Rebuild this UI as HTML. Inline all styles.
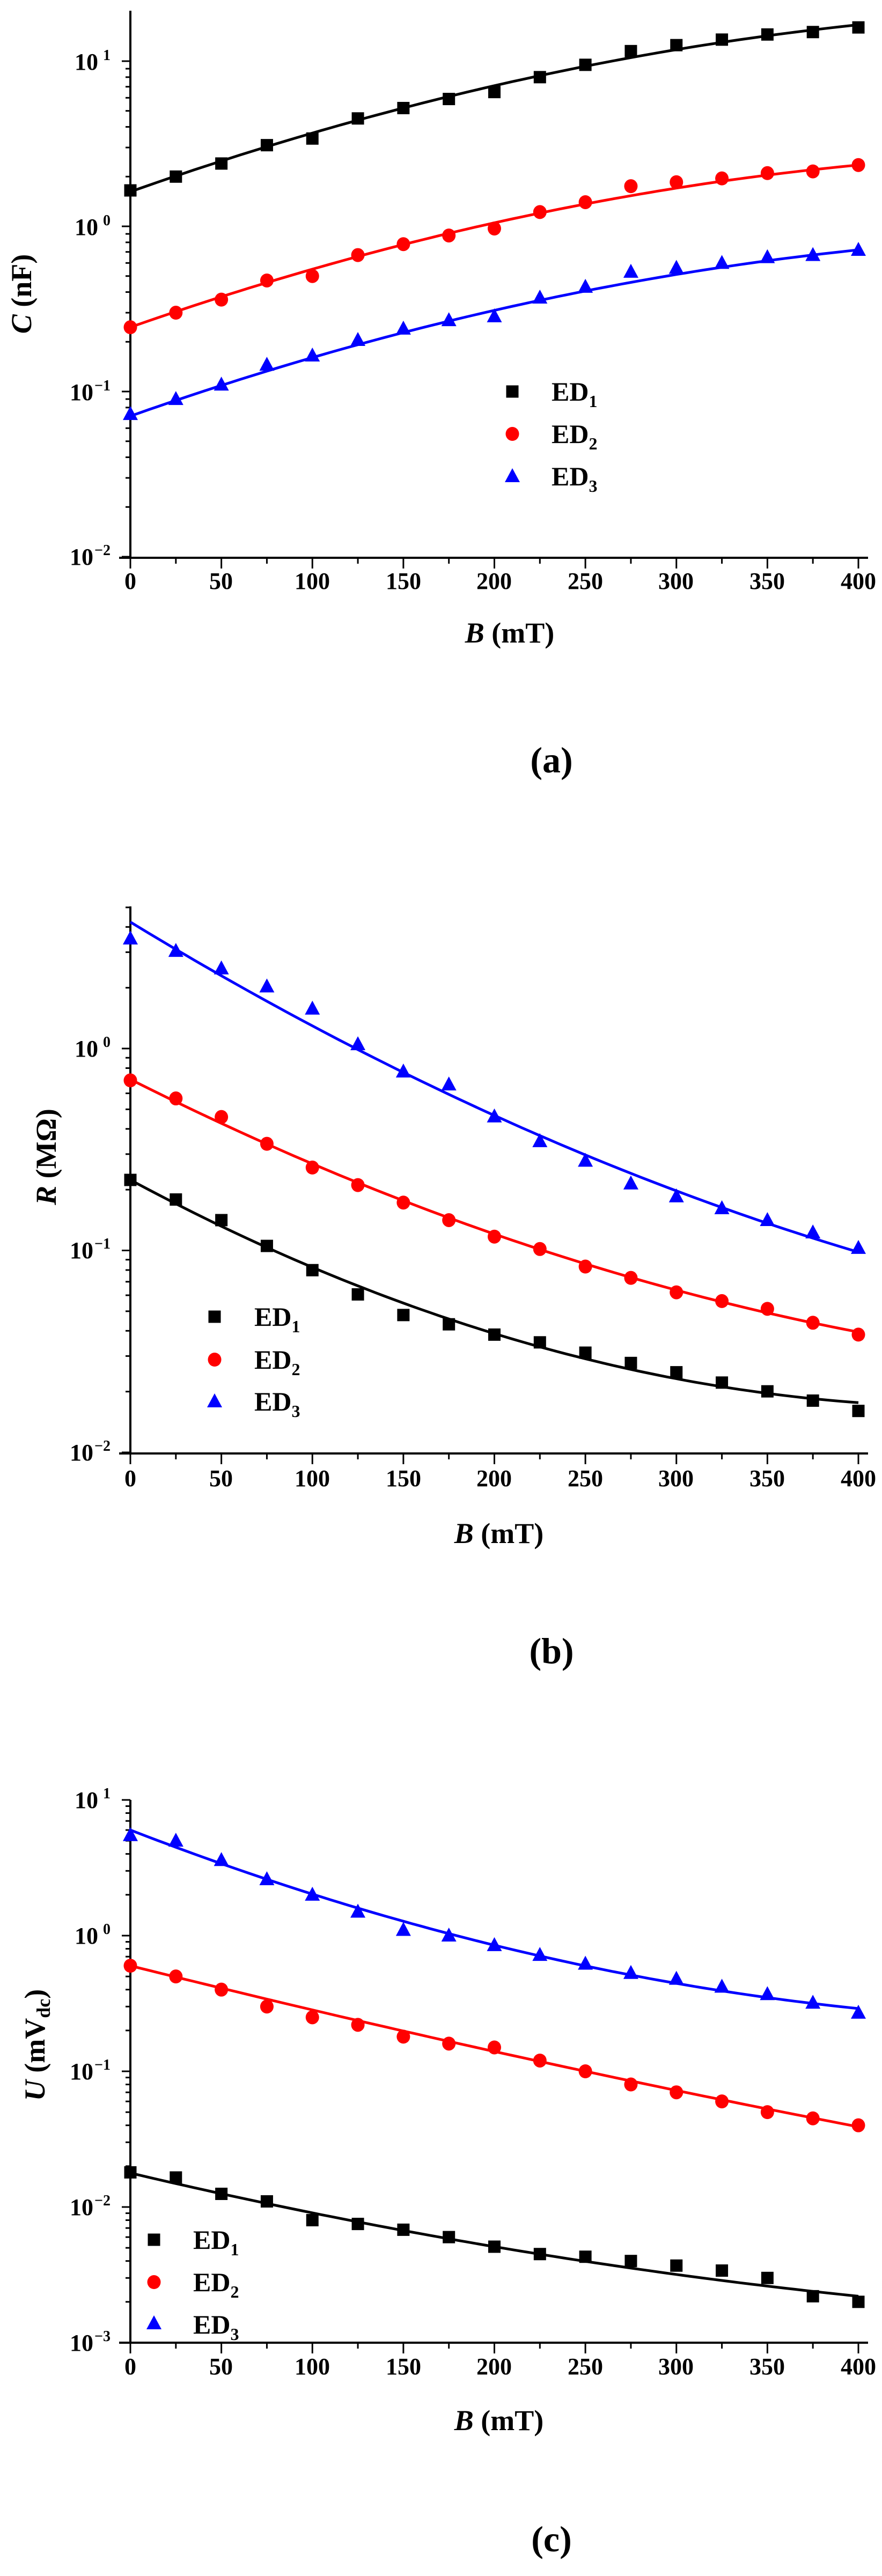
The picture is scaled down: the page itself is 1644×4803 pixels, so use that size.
<!DOCTYPE html>
<html><head><meta charset="utf-8"><style>
html,body{margin:0;padding:0;background:#fff;}
svg{display:block}
text{font-family:"Liberation Serif",serif;font-weight:bold;fill:#000}
</style></head><body>
<svg id="s" width="1644" height="4803" viewBox="0 0 1644 4803" xmlns="http://www.w3.org/2000/svg">
<g id="g"></g>
<!-- Panel a texts -->
<g font-size="44" text-anchor="middle">
<text x="243" y="1098">0</text><text x="412" y="1098">50</text><text x="582" y="1098">100</text><text x="752" y="1098">150</text><text x="921" y="1098">200</text><text x="1091" y="1098">250</text><text x="1260" y="1098">300</text><text x="1430" y="1098">350</text><text x="1600" y="1098">400</text>
<text x="243" y="2771">0</text><text x="412" y="2771">50</text><text x="582" y="2771">100</text><text x="752" y="2771">150</text><text x="921" y="2771">200</text><text x="1091" y="2771">250</text><text x="1260" y="2771">300</text><text x="1430" y="2771">350</text><text x="1600" y="2771">400</text>
<text x="243" y="4427">0</text><text x="412" y="4427">50</text><text x="582" y="4427">100</text><text x="752" y="4427">150</text><text x="921" y="4427">200</text><text x="1091" y="4427">250</text><text x="1260" y="4427">300</text><text x="1430" y="4427">350</text><text x="1600" y="4427">400</text>
</g>
<g font-size="44" text-anchor="end">
<text x="183" y="130">10</text><text x="206" y="112" font-size="28">1</text>
<text x="183" y="438">10</text><text x="206" y="420" font-size="28">0</text>
<text x="174" y="746">10</text><text x="206" y="728" font-size="28">−1</text>
<text x="174" y="1053">10</text><text x="206" y="1035" font-size="28">−2</text>

<text x="183" y="1970">10</text><text x="206" y="1952" font-size="28">0</text>
<text x="174" y="2346">10</text><text x="206" y="2328" font-size="28">−1</text>
<text x="174" y="2723">10</text><text x="206" y="2705" font-size="28">−2</text>

<text x="183" y="3371">10</text><text x="206" y="3353" font-size="28">1</text>
<text x="183" y="3624">10</text><text x="206" y="3606" font-size="28">0</text>
<text x="174" y="3877">10</text><text x="206" y="3859" font-size="28">−1</text>
<text x="174" y="4130">10</text><text x="206" y="4112" font-size="28">−2</text>
<text x="174" y="4383">10</text><text x="206" y="4365" font-size="28">−3</text>
</g>
<g font-size="54" text-anchor="middle">
<text x="950" y="1198"><tspan font-style="italic">B</tspan> (mT)</text>
<text x="930" y="2877"><tspan font-style="italic">B</tspan> (mT)</text>
<text x="930" y="4531"><tspan font-style="italic">B</tspan> (mT)</text>
<text transform="translate(58,548) rotate(-90)"><tspan font-style="italic">C</tspan> (nF)</text>
<text transform="translate(104,2157) rotate(-90)"><tspan font-style="italic">R</tspan> (MΩ)</text>
<text transform="translate(83,3813) rotate(-90)"><tspan font-style="italic">U</tspan> (mV<tspan font-size="36" dy="10">dc</tspan><tspan dy="-10">)</tspan></text>
</g>
<g font-size="68" text-anchor="middle" style="font-family:'Liberation Sans',sans-serif">
<text x="1028" y="1440">(a)</text>
<text x="1028" y="3101">(b)</text>
<text x="1028" y="4757">(c)</text>
</g>
<g font-size="50">
<text x="1028" y="747">ED<tspan font-size="32" dy="12">1</tspan></text>
<text x="1028" y="826">ED<tspan font-size="32" dy="12">2</tspan></text>
<text x="1028" y="905">ED<tspan font-size="32" dy="12">3</tspan></text>
<text x="474" y="2472">ED<tspan font-size="32" dy="12">1</tspan></text>
<text x="474" y="2552">ED<tspan font-size="32" dy="12">2</tspan></text>
<text x="474" y="2630">ED<tspan font-size="32" dy="12">3</tspan></text>
<text x="360" y="4193">ED<tspan font-size="32" dy="12">1</tspan></text>
<text x="360" y="4272">ED<tspan font-size="32" dy="12">2</tspan></text>
<text x="360" y="4351">ED<tspan font-size="32" dy="12">3</tspan></text>
</g>
</svg>
<script>
(function(){
var g=document.getElementById('g'),NS='http://www.w3.org/2000/svg',h='';
var X0=243,X1=1600;function X(b){return X0+(X1-X0)*b/400;}
function axes(top,bot,decY,decades,dec){ // decY: y of lowest decade, dec px per decade
 h+='<line x1="222" y1="'+bot+'" x2="1618" y2="'+bot+'" stroke="#000" stroke-width="4"/>';
 h+='<line x1="243" y1="'+top+'" x2="243" y2="'+(bot+2)+'" stroke="#000" stroke-width="4"/>';
 for(var b=0;b<=400;b+=25){var L=(b%50==0)?20:11;h+='<line x1="'+X(b)+'" y1="'+bot+'" x2="'+X(b)+'" y2="'+(bot+L)+'" stroke="#000" stroke-width="3"/>';}
 for(var d=0;d<decades;d++){for(var m=1;m<10;m++){var y=decY-dec*(d+Math.log10(m));if(y<top-1)continue;var L=m==1?16:9;h+='<line x1="'+(243-L)+'" y1="'+y+'" x2="243" y2="'+y+'" stroke="#000" stroke-width="3"/>';}}
 var y=decY-dec*decades;if(y>=top-1)h+='<line x1="227" y1="'+y+'" x2="243" y2="'+y+'" stroke="#000" stroke-width="3"/>';
}
function mk(t,x,y,c){
 if(t==0)h+='<rect x="'+(x-11.5)+'" y="'+(y-11.5)+'" width="23" height="23" fill="'+c+'"/>';
 else if(t==1)h+='<ellipse cx="'+x+'" cy="'+y+'" rx="12.5" ry="13" fill="'+c+'"/>';
 else h+='<polygon points="'+x+','+(y-15)+' '+(x-14)+','+(y+11)+' '+(x+14)+','+(y+11)+'" fill="'+c+'"/>';
}
function curve(f,c){var p='';for(var i=0;i<=80;i++){var t=i/80;p+=(i?'L':'M')+X(400*t).toFixed(1)+','+f(t).toFixed(1);}h+='<path d="'+p+'" fill="none" stroke="'+c+'" stroke-width="5"/>';}
function q(y0,y1,y2){return function(t){return y0+(4*y1-3*y0-y2)*t+(2*y0-4*y1+2*y2)*t*t;};}
var cols=['#000','#f00','#00f'];
// Panel a: 10^-2 at 1038, decade 308
var Ya=function(v){return 1038-308*(Math.log10(v)+2);};
axes(20,1040,1038,3,308);
var A=[[1.65,2.0,2.4,3.1,3.4,4.5,5.2,5.9,6.5,8.0,9.5,11.5,12.5,13.5,14.5,15,16],
[0.245,0.30,0.36,0.47,0.50,0.67,0.78,0.88,0.97,1.22,1.4,1.75,1.85,1.95,2.1,2.15,2.35],
[0.073,0.09,0.11,0.145,0.165,0.205,0.24,0.27,0.285,0.37,0.43,0.53,0.56,0.60,0.65,0.67,0.72]];
var AF=[[1.62,7.1,16.6],[0.245,1.05,2.35],[0.071,0.31,0.72]];
for(var s=0;s<3;s++){curve(q(Ya(AF[s][0]),Ya(AF[s][1]),Ya(AF[s][2])),cols[s]);}
for(var s=0;s<3;s++)for(var i=0;i<17;i++)mk(s,X(25*i),Ya(A[s][i]),cols[s]);
mk(0,955,730,'#000');mk(1,955,809,'#f00');mk(2,955,888,'#00f');
// Panel b: display y -> real
axes(1690,2710,2708,3,376.5);
function Yb(d){return 1450+d*0.9615;}
var B=[[780,818,858,908,955,1002,1042,1060,1080,1095,1115,1135,1153,1173,1190,1208,1228],
[587,622,658,710,756,790,824,858,890,914,948,970,998,1015,1030,1057,1080],
[312,336,370,405,448,517,570,595,657,705,743,787,812,835,858,882,912]];
var BF=[[780,1078,1212],[585,885,1075],[280,655,920]];
for(var s=0;s<3;s++)curve(q(Yb(BF[s][0]),Yb(BF[s][1]),Yb(BF[s][2])),cols[s]);
for(var s=0;s<3;s++)for(var i=0;i<17;i++)mk(s,X(25*i),Yb(B[s][i]),cols[s]);
mk(0,400,2455,'#000');mk(1,400,2535,'#f00');mk(2,400,2613,'#00f');
// Panel c: 10^-3 at 4368, decade 253
var Yc=function(v){return 4368-253*(Math.log10(v)+3);};
axes(3356,4368,4368,4,253);
var C=[[0.018,0.0165,0.0125,0.011,0.008,0.0075,0.0068,0.006,0.0051,0.0045,0.0043,0.004,0.0037,0.0034,0.003,0.0022,0.002],
[0.6,0.5,0.4,0.3,0.25,0.22,0.18,0.16,0.15,0.12,0.1,0.08,0.07,0.06,0.05,0.045,0.04],
[5.5,5.0,3.6,2.6,2.0,1.5,1.1,1.0,0.85,0.72,0.62,0.53,0.48,0.42,0.37,0.32,0.27]];
var CF=[[0.0178,0.0051,0.0022],[0.6,0.14,0.039],[6.0,0.85,0.29]];
for(var s=0;s<3;s++)curve(q(Yc(CF[s][0]),Yc(CF[s][1]),Yc(CF[s][2])),cols[s]);
for(var s=0;s<3;s++)for(var i=0;i<17;i++)mk(s,X(25*i),Yc(C[s][i]),cols[s]);
mk(0,287,4176,'#000');mk(1,287,4255,'#f00');mk(2,287,4332,'#00f');
g.innerHTML=h;
})();
</script>
</body></html>
